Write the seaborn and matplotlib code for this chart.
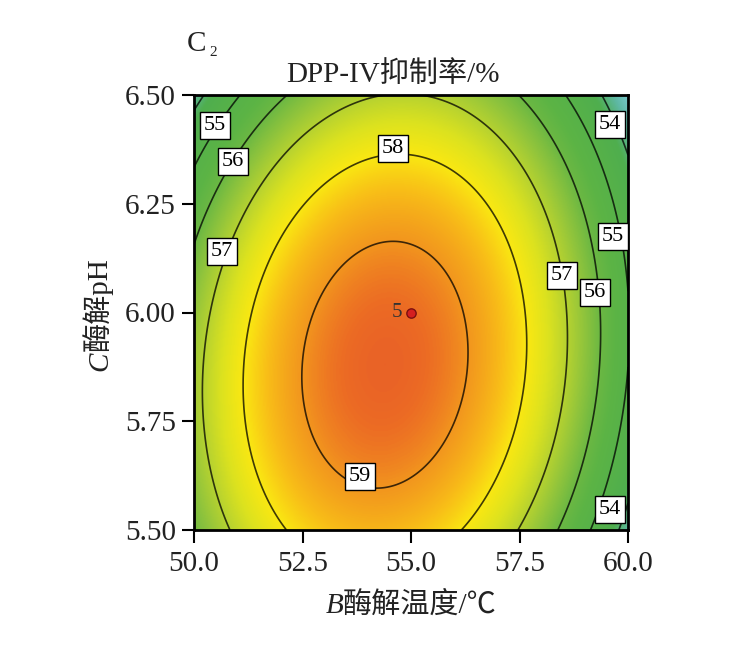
import numpy as np
import matplotlib
matplotlib.use("Agg")
import matplotlib.pyplot as plt
import seaborn as sns
from matplotlib.colors import LinearSegmentedColormap, Normalize
from matplotlib.ticker import FormatStrFormatter

# === data: quadratic model in coded units (B: 50..60 C, C: pH 5.5..6.5) ===
b_range = [50.0, 60.0]
c_range = [5.5, 6.5]
coef_names = ["b0", "B", "C", "BC", "B2", "C2"]
coef_vals = [59.39, -0.75, -0.73, 0.48, -3.60, -1.64]

contour_levels = [54, 55, 56, 57, 58, 59]
center_point = [55.0, 6.0]
center_label = "5"

x_ticks = [50.0, 52.5, 55.0, 57.5, 60.0]
y_ticks = [5.50, 5.75, 6.00, 6.25, 6.50]

# colour anchors (response value -> colour)
cmap_values = [53.0, 53.6, 54.2, 55.5, 56.0, 56.5, 57.0, 57.5, 58.0, 58.5, 59.0, 59.4, 59.6]
cmap_colors = ["#80cad6", "#5eb8a4", "#4fae4e", "#5cb445", "#6cb843", "#90c43c", "#b6d230",
               "#dce21f", "#fae812", "#f8bc18", "#f2961e", "#ec6c24", "#e85e28"]

# contour label boxes: level and where it sits (data coords)
label_levels = [55, 56, 57, 58, 59, 57, 56, 55, 54, 54]
label_x = [50.48, 50.90, 50.65, 54.59, 53.82, 58.48, 59.24, 59.65, 59.59, 59.59]
label_y = [6.431, 6.348, 6.141, 6.378, 5.624, 6.086, 6.045, 6.174, 6.433, 5.548]

# === surface ===
coef = dict(zip(coef_names, coef_vals))
xs = np.linspace(b_range[0], b_range[1], 400)
ys = np.linspace(c_range[0], c_range[1], 400)
X, Y = np.meshgrid(xs, ys)
Bc = (X - 55.0) / 5.0
Cc = (Y - 6.0) / 0.5
Z = (coef["b0"] + coef["B"] * Bc + coef["C"] * Cc + coef["BC"] * Bc * Cc
     + coef["B2"] * Bc ** 2 + coef["C2"] * Cc ** 2)

vmin, vmax = cmap_values[0], cmap_values[-1]
pos = [(v - vmin) / (vmax - vmin) for v in cmap_values]
cmap = LinearSegmentedColormap.from_list("de", list(zip(pos, cmap_colors)))

# === style ===
sns.set_theme(style="white")
fam = ["Liberation Serif", "Noto Sans CJK SC"]
plt.rcParams["font.family"] = fam
plt.rcParams["axes.unicode_minus"] = False

W, H = 744, 667
fig = plt.figure(figsize=(W / 100, H / 100), dpi=100)
ax = fig.add_axes([194 / W, 1 - 530 / H, 434 / W, 435 / H])

ax.imshow(Z, extent=[b_range[0], b_range[1], c_range[0], c_range[1]], origin="lower",
          cmap=cmap, norm=Normalize(vmin, vmax), aspect="auto", interpolation="bilinear")
ax.contour(X, Y, Z, levels=contour_levels, colors="black", linewidths=1.2, alpha=0.75)

for lv, lx, ly in zip(label_levels, label_x, label_y):
    ax.text(lx, ly, str(lv), ha="center", va="center", fontsize=16, color="black", zorder=6,
            bbox=dict(boxstyle="square,pad=0.18", fc="white", ec="black", lw=1.0))

sns.scatterplot(x=[center_point[0]], y=[center_point[1]], ax=ax, s=45, color="#d42020",
                edgecolor="#7a1010", linewidth=1.0, zorder=5, legend=False)
ax.annotate(center_label, (center_point[0], center_point[1]), xytext=(-6, 0),
            textcoords="offset points", ha="right", va="center", fontsize=15, color="#333333")

ax.set_xlim(b_range)
ax.set_ylim(c_range)
ax.set_xticks(x_ticks)
ax.set_yticks(y_ticks)
ax.xaxis.set_major_formatter(FormatStrFormatter("%.1f"))
ax.yaxis.set_major_formatter(FormatStrFormatter("%.2f"))
ax.tick_params(direction="out", length=9, width=1.5, labelsize=21, color="black",
               labelcolor="#222222", bottom=True, left=True, top=False, right=False)
ax.tick_params(axis="x", pad=6)
ax.tick_params(axis="y", pad=4)
for sp in ax.spines.values():
    sp.set_linewidth(2.0)
    sp.set_color("black")
ax.set_xlabel("")
ax.set_ylabel("")


def pair_label(xc, yc, head, tail, rot=0, size=21):
    # italic letter + plain rest, centred on (xc, yc) pixels, yc = baseline
    kw = dict(rotation=rot, rotation_mode="anchor", ha="left", va="baseline",
              fontsize=size, color="#222222")
    t1 = fig.text(0, 0, head, style="italic", **kw)
    t2 = fig.text(0, 0, tail, **kw)
    r = fig.canvas.get_renderer()
    b1, b2 = t1.get_window_extent(r), t2.get_window_extent(r)
    if rot == 0:
        total = b1.width + b2.width
        x0 = xc - total / 2
        t1.set_position((x0 / W, 1 - yc / H))
        t2.set_position(((x0 + b1.width) / W, 1 - yc / H))
    else:
        total = b1.height + b2.height
        y0 = yc + total / 2
        t1.set_position((xc / W, 1 - y0 / H))
        t2.set_position((xc / W, 1 - (y0 - b1.height) / H))


pair_label(411, 613, "B", "酶解温度/℃")
pair_label(107, 314, "C", "酶解pH", rot=90)

fig.text(393 / W, 1 - 82 / H, "DPP-IV抑制率/%", ha="center", va="baseline",
         fontsize=21, color="#222222")
fig.text(187 / W, 1 - 51 / H, "C", ha="left", va="baseline", fontsize=21, color="#222222")
fig.text(209 / W, 1 - 56 / H, "2", ha="left", va="baseline", fontsize=11, color="#222222")

fig.savefig("out.png", dpi=100)
